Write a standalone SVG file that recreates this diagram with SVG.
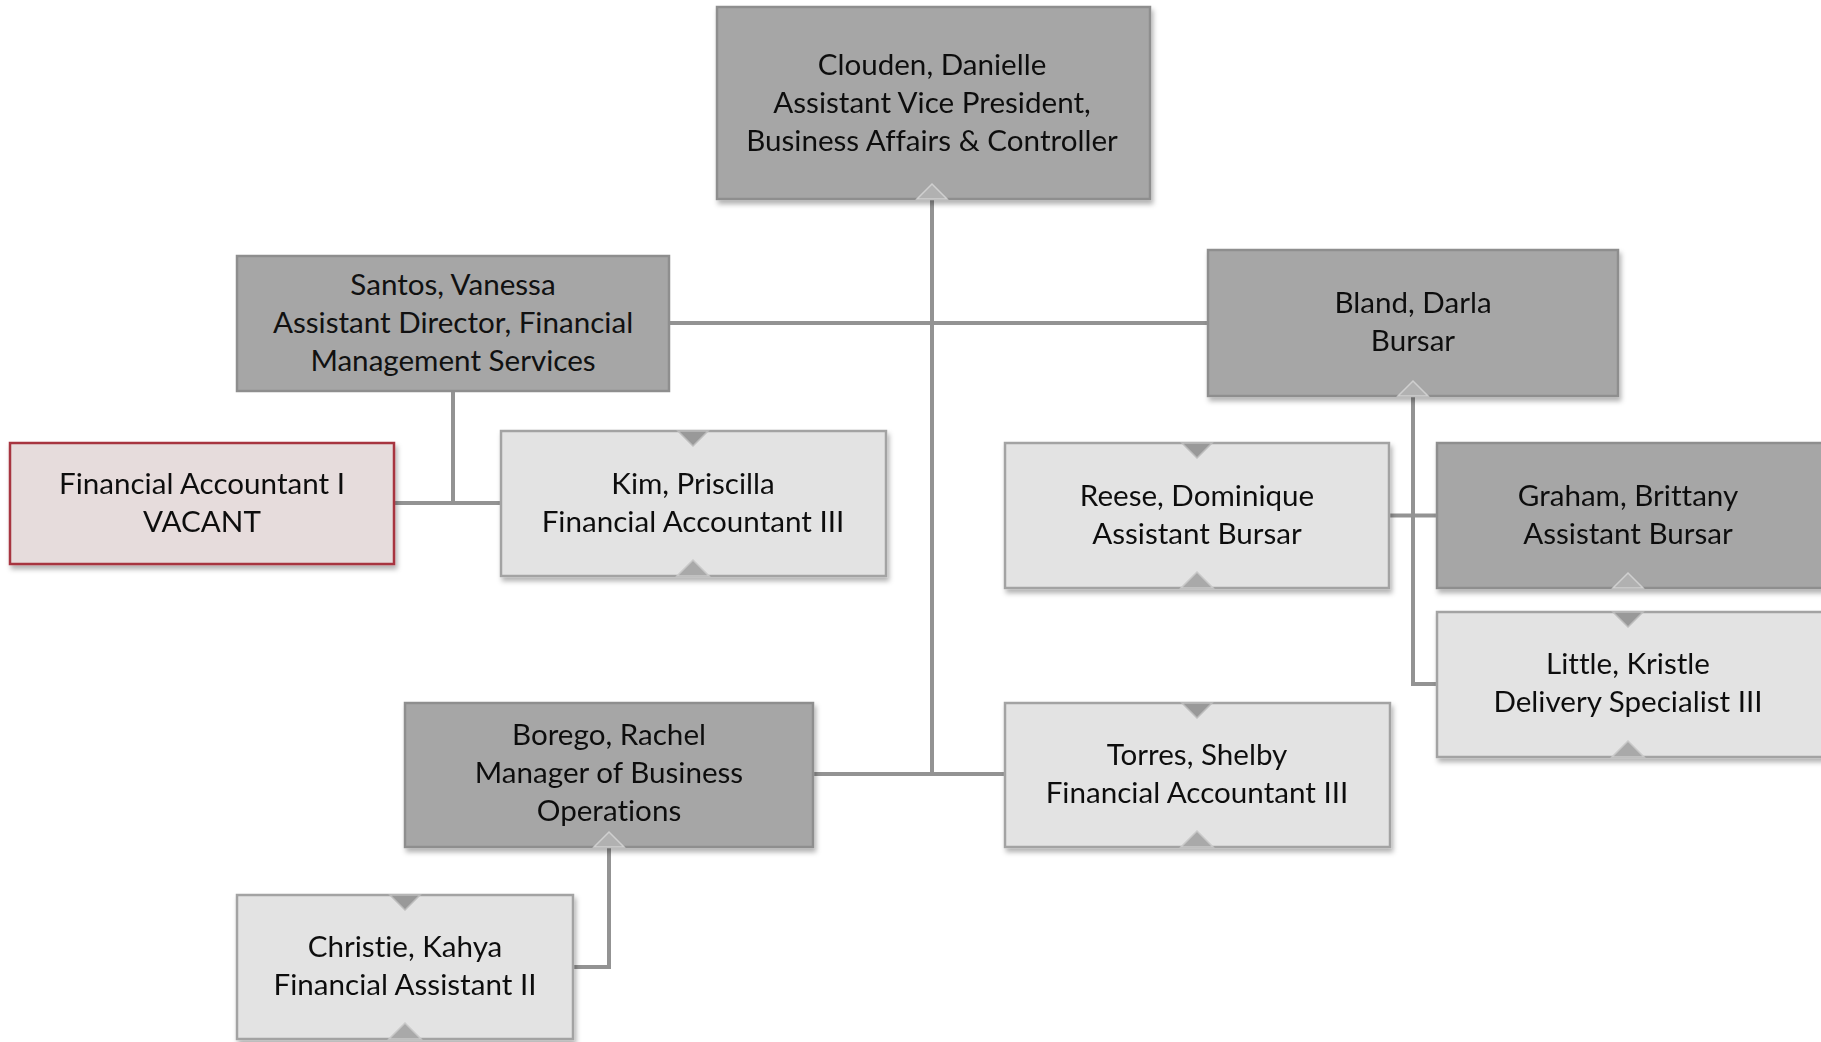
<svg xmlns="http://www.w3.org/2000/svg" width="1821" height="1042" viewBox="0 0 1821 1042">
<defs>
<filter id="sh" x="-5%" y="-5%" width="115%" height="125%">
<feDropShadow dx="2" dy="4" stdDeviation="2.5" flood-color="#000" flood-opacity="0.3"/>
</filter>
<style>
.dark{fill:#a6a6a6;stroke:#8e8e8e;stroke-width:2.5}
.light{fill:#e3e3e3;stroke:#a3a3a3;stroke-width:2.5}
.vac{fill:#e6dcdc;stroke:#a7343f;stroke-width:2.5}
.t{font-family:Lato,"Liberation Sans",sans-serif;font-size:29.6px;fill:#111;text-anchor:middle;font-variant-ligatures:none}
.c{fill:none;stroke:#939393;stroke-width:4}
.ntop{fill:#999;stroke:#bdbdbd;stroke-width:1.5}
.nbot{fill:#a9a9a9;stroke:#c9c9c9;stroke-width:1.5}
.nbotd{fill:#b1b1b1;stroke:#cfcfcf;stroke-width:1.5}
</style>
</defs>
<rect width="1821" height="1042" fill="#fff"/>
<g id="connectors">
<path class="c" d="M932,199 V774"/>
<path class="c" d="M669,323 H1207"/>
<path class="c" d="M813,774 H1004"/>
<path class="c" d="M453,391 V503 M394,503 H500"/>
<path class="c" d="M1413,396 V684 H1437 M1389,515.5 H1437"/>
<path class="c" d="M609,847 V967 H573"/>
</g>
<g id="clouden" filter="url(#sh)">
<rect class="dark" x="717" y="7" width="433" height="192"/>
<polygon class="nbotd" points="917,199 947,199 932,184"/>
<text class="t" x="932" y="75">Clouden, Danielle</text>
<text class="t" x="932" y="113">Assistant Vice President,</text>
<text class="t" x="932" y="151">Business Affairs &amp; Controller</text>
</g>
<g id="santos">
<rect class="dark" x="237" y="256" width="432" height="135"/>
<text class="t" x="453" y="295">Santos, Vanessa</text>
<text class="t" x="453" y="333">Assistant Director, Financial</text>
<text class="t" x="453" y="371">Management Services</text>
</g>
<g id="bland" filter="url(#sh)">
<rect class="dark" x="1208" y="250" width="410" height="146"/>
<polygon class="nbotd" points="1398,396 1428,396 1413,381"/>
<text class="t" x="1413" y="313">Bland, Darla</text>
<text class="t" x="1413" y="351">Bursar</text>
</g>
<g id="vacant" filter="url(#sh)">
<rect class="vac" x="10" y="443" width="384" height="121"/>
<text class="t" x="202" y="494">Financial Accountant I</text>
<text class="t" x="202" y="532">VACANT</text>
</g>
<g id="kim" filter="url(#sh)">
<rect class="light" x="501" y="431" width="385" height="145"/>
<polygon class="ntop" points="678,431 708,431 693,446"/>
<polygon class="nbot" points="677,576 709,576 693,560"/>
<text class="t" x="693" y="494">Kim, Priscilla</text>
<text class="t" x="693" y="532">Financial Accountant III</text>
</g>
<g id="reese" filter="url(#sh)">
<rect class="light" x="1005" y="443" width="384" height="145"/>
<polygon class="ntop" points="1182,443 1212,443 1197,458"/>
<polygon class="nbot" points="1181,588 1213,588 1197,572"/>
<text class="t" x="1197" y="506">Reese, Dominique</text>
<text class="t" x="1197" y="544">Assistant Bursar</text>
</g>
<g id="graham" filter="url(#sh)">
<rect class="dark" x="1437" y="443" width="386" height="145"/>
<polygon class="nbotd" points="1613,588 1643,588 1628,573"/>
<text class="t" x="1628" y="506">Graham, Brittany</text>
<text class="t" x="1628" y="544">Assistant Bursar</text>
</g>
<g id="little" filter="url(#sh)">
<rect class="light" x="1437" y="612" width="386" height="145"/>
<polygon class="ntop" points="1613,612 1643,612 1628,627"/>
<polygon class="nbot" points="1612,757 1644,757 1628,741"/>
<text class="t" x="1628" y="674">Little, Kristle</text>
<text class="t" x="1628" y="712">Delivery Specialist III</text>
</g>
<g id="borego" filter="url(#sh)">
<rect class="dark" x="405" y="703" width="408" height="144"/>
<polygon class="nbotd" points="594,847 624,847 609,832"/>
<text class="t" x="609" y="745">Borego, Rachel</text>
<text class="t" x="609" y="783">Manager of Business</text>
<text class="t" x="609" y="821">Operations</text>
</g>
<g id="torres" filter="url(#sh)">
<rect class="light" x="1005" y="703" width="385" height="144"/>
<polygon class="ntop" points="1182,703 1212,703 1197,718"/>
<polygon class="nbot" points="1181,847 1213,847 1197,831"/>
<text class="t" x="1197" y="765">Torres, Shelby</text>
<text class="t" x="1197" y="803">Financial Accountant III</text>
</g>
<g id="christie" filter="url(#sh)">
<rect class="light" x="237" y="895" width="336" height="144"/>
<polygon class="ntop" points="390,895 420,895 405,910"/>
<polygon class="nbot" points="389,1039 421,1039 405,1023"/>
<text class="t" x="405" y="957">Christie, Kahya</text>
<text class="t" x="405" y="995">Financial Assistant II</text>
</g>
</svg>
